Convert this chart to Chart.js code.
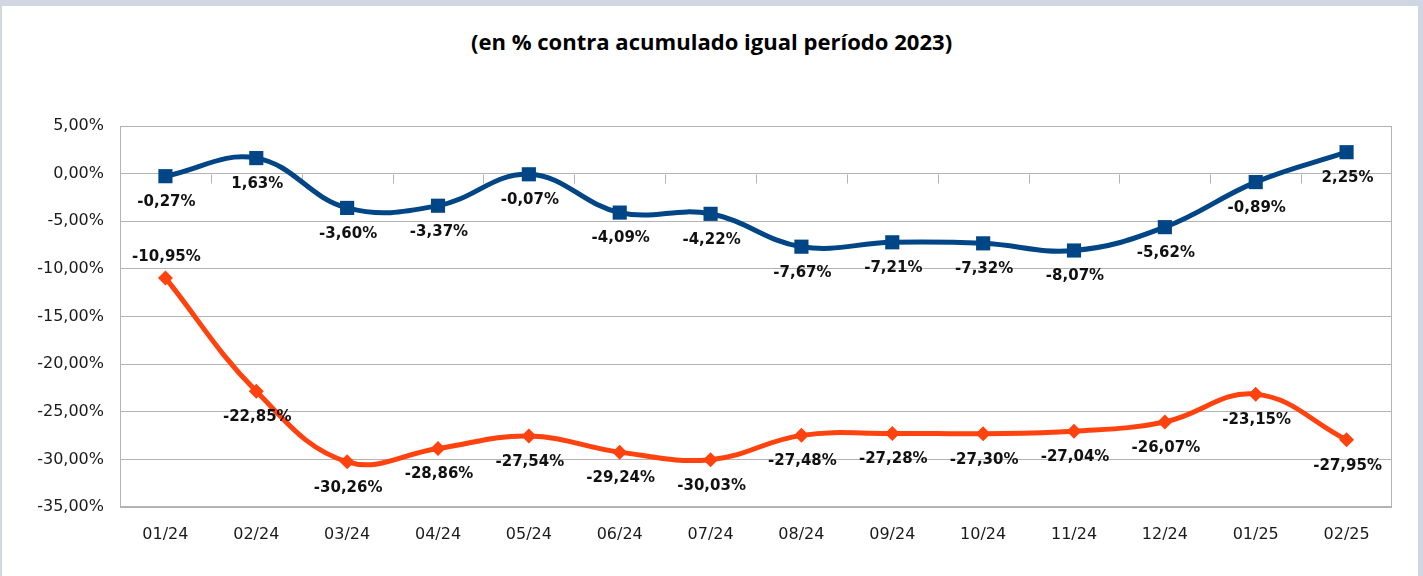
<!doctype html>
<html>
<head>
<meta charset="utf-8">
<title>acumulado 2024</title>
<script src="https://cdn.jsdelivr.net/npm/chart.js@4.4.1/dist/chart.umd.min.js"></script>
<style>
  html, body { margin: 0; padding: 0; }
  body { width: 1423px; height: 576px; background: #d0d6e2; position: relative; overflow: hidden; }
  #panel { position: absolute; left: 2px; top: 6px; width: 1416px; height: 570px; background: #fff; }
  #title { position: absolute; left: 0; top: 28px; width: 1423px; text-align: center;
           font-family: "Open Sans", sans-serif; font-weight: bold; font-size: 21px; color: #000;
           transform: scaleX(1.05); transform-origin: 711px 0; }
  #wrap { position: absolute; left: 0; top: 0; width: 1423px; height: 576px; }
</style>
</head>
<body>
<div id="panel"></div>
<div id="title">(en % contra acumulado igual período 2023)</div>
<div id="wrap"><canvas id="myChart" width="1423" height="576"></canvas></div>
<script>
  // datos
  var meses = ['01/24','02/24','03/24','04/24','05/24','06/24','07/24','08/24','09/24','10/24','11/24','12/24','01/25','02/25'];
  var serieAzul = [-0.27, 1.63, -3.60, -3.37, -0.07, -4.09, -4.22, -7.67, -7.21, -7.32, -8.07, -5.62, -0.89, 2.25];
  var serieNaranja = [-10.95, -22.85, -30.26, -28.86, -27.54, -29.24, -30.03, -27.48, -27.28, -27.30, -27.04, -26.07, -23.15, -27.95];
  var ejeY = { min: -35, max: 5, paso: 5 };

  function pct(v) { return v.toFixed(2).replace('.', ',') + '%'; }

  // marco del area y marcas del eje en 0
  var marco = {
    id: 'marco',
    beforeDatasetsDraw: function(chart) {
      var ctx = chart.ctx, a = chart.chartArea, x = chart.scales.x, y = chart.scales.y;
      ctx.save();
      ctx.strokeStyle = '#b3b3b3';
      ctx.lineWidth = 1;
      ctx.strokeRect(a.left + 0.5, a.top + 0.5, a.right - a.left - 1, a.bottom - a.top - 1);
      var y0 = Math.round(y.getPixelForValue(0)) + 0.5;
      ctx.beginPath();
      for (var i = 1; i < meses.length; i++) {
        var xb = Math.round((x.getPixelForValue(i - 1) + x.getPixelForValue(i)) / 2) + 0.5;
        ctx.moveTo(xb, y0);
        ctx.lineTo(xb, y0 + 9);
      }
      ctx.stroke();
      ctx.restore();
    }
  };

  // etiquetas de valores
  var etiquetas = {
    id: 'etiquetas',
    afterDatasetsDraw: function(chart) {
      var ctx = chart.ctx;
      ctx.save();
      ctx.font = 'bold 15px "DejaVu Sans", sans-serif';
      ctx.fillStyle = '#111';
      ctx.textAlign = 'center';
      ctx.textBaseline = 'middle';
      chart.data.datasets.forEach(function(ds, d) {
        chart.getDatasetMeta(d).data.forEach(function(p, i) {
          var dy = 26;
          if (d === 1 && i === 0) dy = -21;
          ctx.fillText(pct(ds.data[i]), p.x + 1, p.y + dy);
        });
      });
      ctx.restore();
    }
  };

  var ctx = document.getElementById('myChart').getContext('2d');
  var chart = new Chart(ctx, {
    type: 'line',
    data: {
      labels: meses,
      datasets: [{
        label: 'azul',
        data: serieAzul,
        borderColor: '#004586',
        backgroundColor: '#004586',
        borderWidth: 5,
        tension: 0.4,
        pointStyle: 'rect',
        pointRadius: 10,
        pointHoverRadius: 10,
        pointBorderWidth: 0
      }, {
        label: 'naranja',
        data: serieNaranja,
        borderColor: '#ff420e',
        backgroundColor: '#ff420e',
        borderWidth: 5,
        tension: 0.4,
        pointStyle: 'rectRot',
        pointRadius: 7.5,
        pointHoverRadius: 7.5,
        pointBorderWidth: 0
      }]
    },
    options: {
      responsive: false,
      animation: false,
      devicePixelRatio: 1,
      layout: { padding: { left: 0, top: 126, right: 31, bottom: 0 } },
      plugins: { legend: { display: false }, tooltip: { enabled: false } },
      scales: {
        x: {
          offset: true,
          grid: { display: false },
          border: { display: false },
          ticks: { color: '#1a1a1a', font: { family: '"DejaVu Sans", sans-serif', size: 16 }, padding: 10, maxRotation: 0 },
          afterFit: function(s) { s.height = 69; }
        },
        y: {
          min: ejeY.min,
          max: ejeY.max,
          grid: { color: '#b3b3b3', drawTicks: false },
          border: { display: false },
          ticks: {
            stepSize: ejeY.paso,
            color: '#1a1a1a',
            font: { family: '"DejaVu Sans", sans-serif', size: 16 },
            padding: 16,
            callback: function(v) { return pct(v); }
          },
          afterFit: function(s) { s.width = 120; }
        }
      }
    },
    plugins: [marco, etiquetas]
  });
</script>
</body>
</html>
